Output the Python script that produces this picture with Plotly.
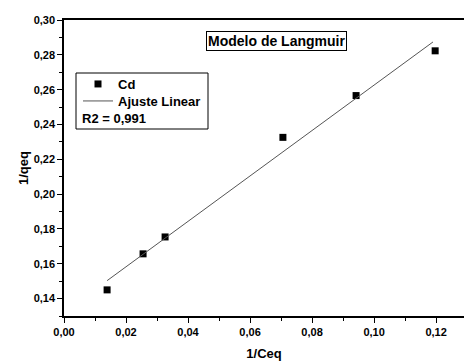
import plotly.graph_objects as go

# Data
ceq_inv = [0.0139, 0.0255, 0.0326, 0.0706, 0.0942, 0.1197]
qeq_inv = [0.145, 0.1657, 0.1754, 0.2326, 0.2566, 0.2823]
fit_x = [0.0139, 0.1190]
fit_y = [0.1503, 0.2874]
series_name = "Cd"
fit_name = "Ajuste Linear"
r2_text = "R2 = 0,991"
title_text = "Modelo de Langmuir"

FONT = "Arial, Liberation Sans, sans-serif"

W, H = 464, 361
L, T, B = 64, 20, 45
PW, PH = W - L, H - T - B


def px_x(x):
    return (x - L) / PW


def px_y(y):
    return (T + PH - y) / PH


fig = go.Figure()
fig.add_trace(go.Scatter(
    x=ceq_inv, y=qeq_inv, mode="markers", name=series_name,
    marker=dict(symbol="square", size=7, color="black"),
    legend="legend",
))
fig.add_trace(go.Scatter(
    x=fit_x, y=fit_y, mode="lines", name=fit_name,
    line=dict(color="#555555", width=1),
    legend="legend2",
))

leg_common = dict(
    xanchor="left", yanchor="middle",
    bgcolor="rgba(0,0,0,0)", borderwidth=0,
    font=dict(size=13, family=FONT, weight="bold"),
    itemwidth=30, tracegroupgap=0,
)

fig.update_layout(
    width=W, height=H,
    margin=dict(l=L, r=0, t=T, b=B),
    paper_bgcolor="white", plot_bgcolor="white",
    separators=", ",
    font=dict(family=FONT, color="black", size=11),
    showlegend=True,
    legend=dict(x=px_x(78), y=px_y(84), **leg_common),
    legend2=dict(x=px_x(78), y=px_y(101), **leg_common),
    xaxis=dict(
        range=[0, 0.129], dtick=0.02, tickformat=".2f",
        showline=True, linecolor="black", linewidth=1.5, mirror=True,
        ticks="outside", ticklen=5, tickcolor="black",
        tickfont=dict(size=11, weight="bold"),
        minor=dict(ticks="outside", ticklen=3, dtick=0.01, tickcolor="black"),
        showgrid=False, zeroline=False,
        title=dict(text="1/Ceq", font=dict(size=13, weight="bold"), standoff=12),
    ),
    yaxis=dict(
        range=[0.13, 0.30], dtick=0.02, tick0=0.14, tickformat=".2f",
        showline=True, linecolor="black", linewidth=1.5, mirror=False,
        ticks="outside", ticklen=5, tickcolor="black",
        tickfont=dict(size=11, weight="bold"),
        minor=dict(ticks="outside", ticklen=3, dtick=0.01, tickcolor="black"),
        showgrid=False, zeroline=False,
        title=dict(text="1/qeq", font=dict(size=13, weight="bold"), standoff=2),
    ),
)

# Legend box
fig.add_shape(type="rect", xref="paper", yref="paper",
              x0=px_x(76), x1=px_x(208), y0=px_y(129), y1=px_y(73),
              line=dict(color="black", width=1))
fig.add_annotation(xref="paper", yref="paper", x=px_x(80), y=px_y(119),
                   text=r2_text, showarrow=False, xanchor="left", yanchor="middle",
                   font=dict(size=13, family=FONT, weight="bold"))
# Title box
fig.add_annotation(xref="paper", yref="paper", x=px_x(276), y=px_y(41),
                   text=title_text, showarrow=False, xanchor="center", yanchor="middle",
                   font=dict(size=14, family=FONT, weight="bold"),
                   bordercolor="black", borderwidth=1, borderpad=1)

fig.write_html(
    "out.html",
    config={"displayModeBar": False},
    post_script="document.body.style.margin='0';document.body.style.overflow='hidden';",
)
